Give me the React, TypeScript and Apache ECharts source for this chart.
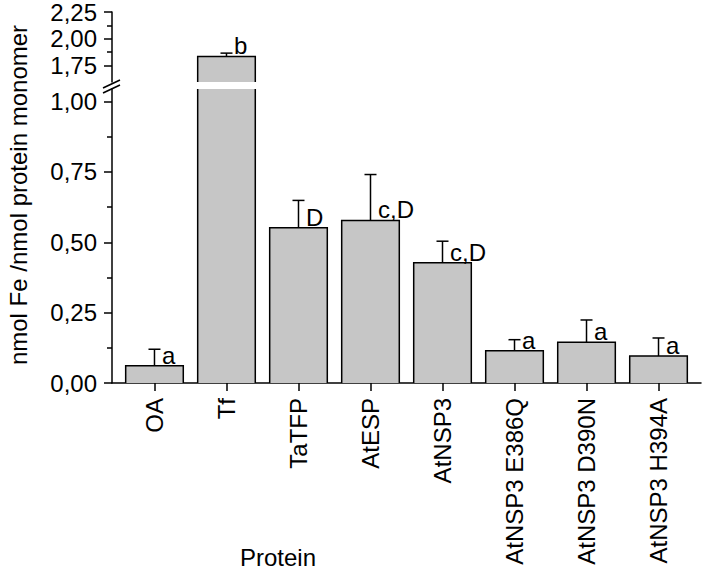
import React, { useEffect, useRef } from "react";
import * as echarts from "echarts";

const categories = [
  "OA",
  "Tf",
  "TaTFP",
  "AtESP",
  "AtNSP3",
  "AtNSP3 E386Q",
  "AtNSP3 D390N",
  "AtNSP3 H394A",
];
const means = [0.061, 1.833, 0.552, 0.578, 0.427, 0.115, 0.145, 0.096];
const errors = [0.059, 0.031, 0.097, 0.163, 0.077, 0.039, 0.079, 0.064];
const letters = ["a", "b", "D", "c,D", "c,D", "a", "a", "a"];

const lowerTicks = [0, 0.25, 0.5, 0.75, 1.0];
const lowerMinorTicks = [0.125, 0.375, 0.625, 0.875];
const upperTicks = [1.75, 2.0, 2.25];
const upperMinorTicks = [1.875, 2.125];

const positions = categories.map((_, i) => i + 1);

const FONT = '"Liberation Sans", Arial, sans-serif';
const LOW_MIN = 0;
const LOW_MAX = 1.045;
const UP_MIN = 1.593;
const UP_MAX = 2.25;
const X_MIN = 0.41;
const X_MAX = 8.59;

const fmt = (v: number) => v.toFixed(2).replace(".", ",");

function makeRender(lo: number, hi: number) {
  return (params: any, api: any) => {
    const x = api.value(0);
    const v = api.value(1);
    const e = api.value(2);
    if (v <= lo) return null;
    const w = api.size([1, 0])[0] * 0.8;
    const basePt = api.coord([x, lo]);
    const cx = basePt[0];
    const base = basePt[1];
    const clipped = v > hi;
    const top = api.coord([x, Math.min(v, hi)])[1];
    const l = cx - w / 2;
    const r = cx + w / 2;
    const stroke = { stroke: "#000", lineWidth: 1.5, fill: "none" };
    const children: any[] = [
      {
        type: "rect",
        shape: { x: l, y: top, width: w, height: base - top },
        style: { fill: "#c6c6c6", stroke: "none" },
      },
    ];
    if (clipped) {
      children.push({ type: "line", shape: { x1: l, y1: base, x2: l, y2: top }, style: stroke });
      children.push({ type: "line", shape: { x1: r, y1: base, x2: r, y2: top }, style: stroke });
    } else {
      children.push({
        type: "polyline",
        shape: { points: [[l, base], [l, top], [r, top], [r, base]] },
        style: stroke,
      });
      const et = api.coord([x, v + e])[1];
      children.push({ type: "line", shape: { x1: cx, y1: top, x2: cx, y2: et }, style: stroke });
      children.push({ type: "line", shape: { x1: cx - 6, y1: et, x2: cx + 6, y2: et }, style: stroke });
      children.push({
        type: "text",
        x: cx + 7.5,
        y: top - 10.5,
        style: {
          text: letters[params.dataIndex],
          fill: "#000",
          fontSize: 24,
          fontFamily: FONT,
          align: "left",
          verticalAlign: "middle",
        },
      });
    }
    return { type: "group", children };
  };
}

const axisLineStyle = { color: "#000", width: 1.5 };

export default function App() {
  const ref = useRef<HTMLDivElement>(null);
  useEffect(() => {
    if (!ref.current) return;
    const chart = echarts.init(ref.current, undefined, { renderer: "svg" });
    const data = positions.map((p, i) => [p, means[i], errors[i]]);
    const yLabel = {
      color: "#000",
      fontSize: 24,
      fontFamily: FONT,
      margin: 15,
      formatter: (v: number) => fmt(v),
    };
    chart.setOption({
      animation: false,
      backgroundColor: "#fff",
      grid: [
        { left: 112, top: 11, width: 589, height: 71, containLabel: false },
        { left: 112, top: 89, width: 589, height: 294, containLabel: false },
      ],
      xAxis: [
        { gridIndex: 0, type: "value", min: X_MIN, max: X_MAX, show: false },
        {
          gridIndex: 1,
          type: "value",
          min: X_MIN,
          max: X_MAX,
          axisLine: { show: true, onZero: false, lineStyle: axisLineStyle },
          axisTick: { show: true, customValues: positions, length: 8, lineStyle: axisLineStyle },
          axisLabel: {
            customValues: positions,
            rotate: 90,
            margin: 15,
            color: "#000",
            fontSize: 24,
            fontFamily: FONT,
            formatter: (v: number) => categories[Math.round(v) - 1] ?? "",
          },
          splitLine: { show: false },
        },
      ],
      yAxis: [
        {
          gridIndex: 0,
          type: "value",
          min: UP_MIN,
          max: UP_MAX,
          axisLine: { show: true, onZero: false, lineStyle: axisLineStyle },
          axisTick: { show: true, customValues: upperTicks, length: 8, lineStyle: axisLineStyle },
          axisLabel: { ...yLabel, customValues: upperTicks },
          splitLine: { show: false },
        },
        {
          gridIndex: 0,
          type: "value",
          position: "left",
          min: UP_MIN,
          max: UP_MAX,
          axisLine: { show: false },
          axisTick: { show: true, customValues: upperMinorTicks, length: 5, lineStyle: axisLineStyle },
          axisLabel: { show: false },
          splitLine: { show: false },
        },
        {
          gridIndex: 1,
          type: "value",
          min: LOW_MIN,
          max: LOW_MAX,
          axisLine: { show: true, onZero: false, lineStyle: axisLineStyle },
          axisTick: { show: true, customValues: lowerTicks, length: 8, lineStyle: axisLineStyle },
          axisLabel: { ...yLabel, customValues: lowerTicks },
          splitLine: { show: false },
        },
        {
          gridIndex: 1,
          type: "value",
          position: "left",
          min: LOW_MIN,
          max: LOW_MAX,
          axisLine: { show: false },
          axisTick: { show: true, customValues: lowerMinorTicks, length: 5, lineStyle: axisLineStyle },
          axisLabel: { show: false },
          splitLine: { show: false },
        },
      ],
      series: [
        {
          type: "custom",
          xAxisIndex: 0,
          yAxisIndex: 0,
          data,
          renderItem: makeRender(UP_MIN, UP_MAX),
        },
        {
          type: "custom",
          xAxisIndex: 1,
          yAxisIndex: 2,
          data,
          renderItem: makeRender(LOW_MIN, LOW_MAX),
        },
      ],
      graphic: [
        {
          type: "line",
          shape: { x1: 103, y1: 88, x2: 120, y2: 80 },
          style: { stroke: "#000", lineWidth: 1.5 },
        },
        {
          type: "line",
          shape: { x1: 103, y1: 93, x2: 120, y2: 85 },
          style: { stroke: "#000", lineWidth: 1.5 },
        },
        {
          type: "text",
          x: 18,
          y: 195,
          rotation: Math.PI / 2,
          style: {
            text: "nmol Fe /nmol protein monomer",
            fill: "#000",
            fontSize: 24,
            fontFamily: FONT,
            align: "center",
            verticalAlign: "middle",
          },
        },
        {
          type: "text",
          x: 278,
          y: 557,
          style: {
            text: "Protein",
            fill: "#000",
            fontSize: 24,
            fontFamily: FONT,
            align: "center",
            verticalAlign: "middle",
          },
        },
      ],
    });
    return () => chart.dispose();
  }, []);
  return (
    <div
      ref={ref}
      style={{ position: "absolute", left: 0, top: 0, width: 702, height: 569 }}
    />
  );
}
